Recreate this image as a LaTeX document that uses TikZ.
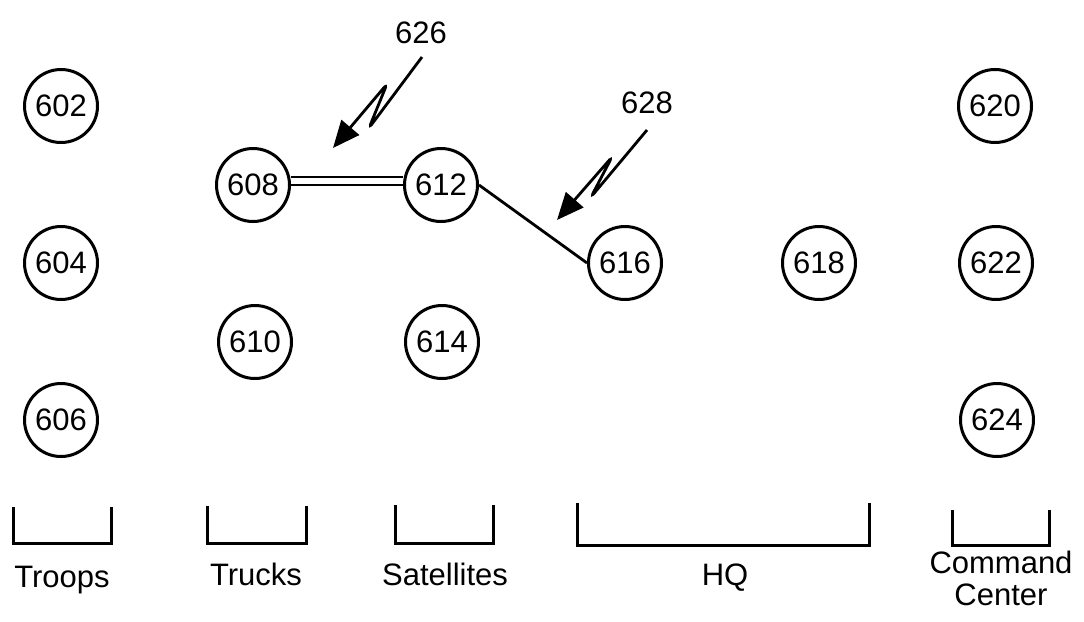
\documentclass[tikz,border=0pt]{standalone}
\usepackage{fontspec}
\setmainfont{Liberation Sans}
\usetikzlibrary{arrows.meta}
\begin{document}
\begin{tikzpicture}[x=1pt,y=-1pt,
  unit/.style={circle,draw,line width=3pt,minimum size=73pt,inner sep=0pt,
    font=\fontsize{31}{36}\selectfont},
  caption/.style={font=\fontsize{31}{32}\selectfont,inner sep=0pt,align=center},
  tag/.style={font=\fontsize{31}{36}\selectfont,inner sep=0pt},
  bracket/.style={line width=3pt},
  link/.style={line width=2.8pt},
  duallink/.style={line width=2.6pt,double,double distance=5.4pt},
  lead/.style={line width=2.8pt,rounded corners=5pt,
    -{Triangle[length=27pt,width=23pt]}}]
\useasboundingbox (0,0) rectangle (1084,621);

% network elements
\node[unit] (n602) at (61,106) {602};
\node[unit] (n604) at (61,263) {604};
\node[unit] (n606) at (61,420) {606};
\node[unit] (n608) at (253,185) {608};
\node[unit] (n610) at (255,342) {610};
\node[unit] (n612) at (441,185) {612};
\node[unit] (n614) at (442,342) {614};
\node[unit] (n616) at (625,263) {616};
\node[unit] (n618) at (819,263) {618};
\node[unit] (n620) at (995,106) {620};
\node[unit] (n622) at (996,263) {622};
\node[unit] (n624) at (997,420) {624};

% links
\draw[duallink] ([yshift=4pt]n608.east) -- ([yshift=4pt]n612.west);
\draw[link] (n612.east) -- (n616.west);

% reference numerals with lead lines
\node[tag] (t626) at (421,33) {626};
\node[tag] (t628) at (647,103) {628};
\coordinate (s626) at (422,57);
\coordinate (e626) at (333,148);
\coordinate (s628) at (647,130);
\coordinate (e628) at (557,220);
\draw[lead] (s626) -- (369,128) -- (387,84) -- (e626);
\draw[lead] (s628) -- (591,197) -- (612,157) -- (e628);

% group brackets
\draw[bracket] (13,507) |- (111,543) -- (111,507);
\draw[bracket] (207,506) |- (306,543) -- (306,506);
\draw[bracket] (395,505) |- (493,543) -- (493,505);
\draw[bracket] (577,503) |- (869,545) -- (869,503);
\draw[bracket] (952,510) |- (1049,545) -- (1049,510);

% group names
\node[caption,anchor=base] (troops) at (62,587) {Troops};
\node[caption,anchor=base] (trucks) at (256,585) {Trucks};
\node[caption,anchor=base] (sats) at (445,585) {Satellites};
\node[caption,anchor=base] (hq) at (725,585) {HQ};
\node[caption] (cmd) at (1001,578) {Command\\Center};
\end{tikzpicture}
\end{document}
